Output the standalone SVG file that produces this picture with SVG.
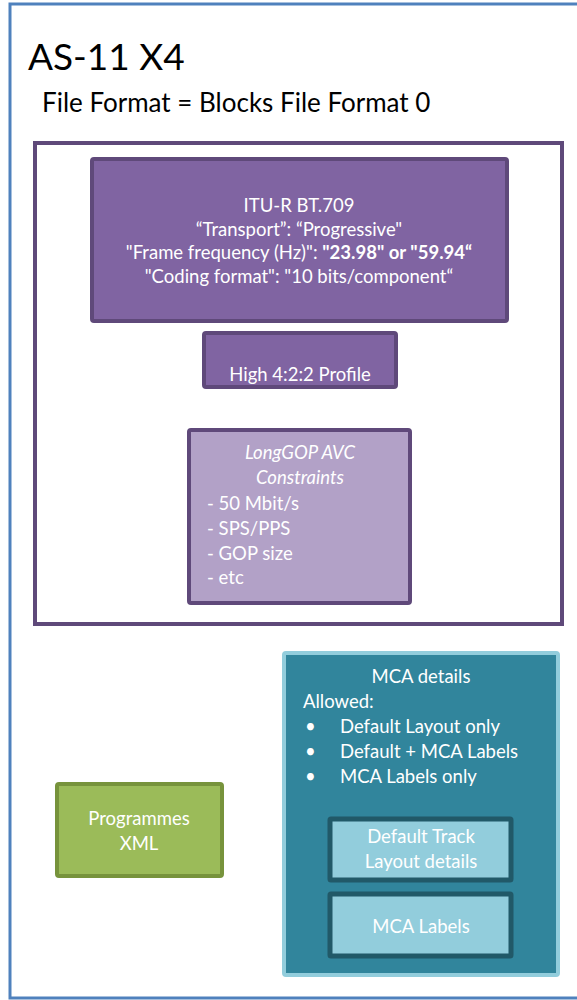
<svg xmlns="http://www.w3.org/2000/svg" width="577" height="1000" viewBox="0 0 577 1000">
<style>
text{font-family:Lato,"Open Sans","Liberation Sans",sans-serif;fill:#fff;font-size:18.5px}
.dark{fill:#000}
.c{text-anchor:middle}
.it{font-style:italic}
.b{font-weight:bold}
.purple{fill:#8064A2;stroke:#5F497A;stroke-width:4}
.lpurple{fill:#B2A1C7;stroke:#5F497A;stroke-width:4}
</style>
<rect x="10" y="4" width="580" height="994" fill="#fff" stroke="#4F81BD" stroke-width="3"/>
<text class="dark" x="28" y="70" style="font-size:37px">AS-11 X4</text>
<text class="dark" x="42" y="112" style="font-size:26px">File Format = Blocks File Format 0</text>
<g id="essence">
<rect x="35" y="143" width="527" height="481" fill="#fff" stroke="#5F497A" stroke-width="4"/>
</g>
<g id="bt709">
<rect class="purple" x="92" y="159" width="415" height="162" rx="2"/>
<text class="c"><tspan x="299" y="212">ITU-R BT.709</tspan><tspan x="299" y="236">“Transport”: “Progressive"</tspan><tspan x="299" y="259">"Frame frequency (Hz)": <tspan class="b">"23.98" or "59.94“</tspan></tspan><tspan x="299" y="283">"Coding format": "10 bits/component“</tspan></text>
</g>
<g id="profile">
<rect class="purple" x="204" y="333" width="192" height="54" rx="2"/>
<text class="c" x="300" y="381">High 4:2:2 Profile</text>
</g>
<g id="constraints">
<rect class="lpurple" x="189" y="430" width="221" height="173" rx="2"/>
<text class="c it"><tspan x="300" y="459">LongGOP AVC</tspan><tspan x="300" y="484">Constraints</tspan></text>
<text><tspan x="207" y="510">- 50 Mbit/s</tspan><tspan x="207" y="535">- SPS/PPS</tspan><tspan x="207" y="560">- GOP size</tspan><tspan x="207" y="584">- etc</tspan></text>
</g>
<g id="programmes">
<rect x="57" y="784" width="165" height="92" rx="2" fill="#9BBB59" stroke="#77933C" stroke-width="4"/>
<text class="c"><tspan x="139" y="825">Programmes</tspan><tspan x="139" y="850">XML</tspan></text>
</g>
<g id="mca">
<rect x="284" y="653" width="274" height="322" rx="2" fill="#31859C" stroke="#92CDDC" stroke-width="4"/>
<text class="c" x="421" y="683">MCA details</text>
<text x="303" y="708">Allowed:</text>
<text><tspan x="305" y="733">•</tspan><tspan x="340" y="733">Default Layout only</tspan><tspan x="305" y="758">•</tspan><tspan x="340" y="758">Default + MCA Labels</tspan><tspan x="305" y="783">•</tspan><tspan x="340" y="783">MCA Labels only</tspan></text>
</g>
<g id="default-track">
<rect x="330" y="819" width="181" height="61" fill="#92CDDC" stroke="#215968" stroke-width="5" rx="1"/>
<text class="c"><tspan x="421" y="843">Default Track</tspan><tspan x="421" y="868">Layout details</tspan></text>
</g>
<g id="mca-labels">
<rect x="330" y="894" width="181" height="62" fill="#92CDDC" stroke="#215968" stroke-width="5" rx="1"/>
<text class="c" x="421" y="933">MCA Labels</text>
</g>
<g id="connectors"></g>
</svg>
